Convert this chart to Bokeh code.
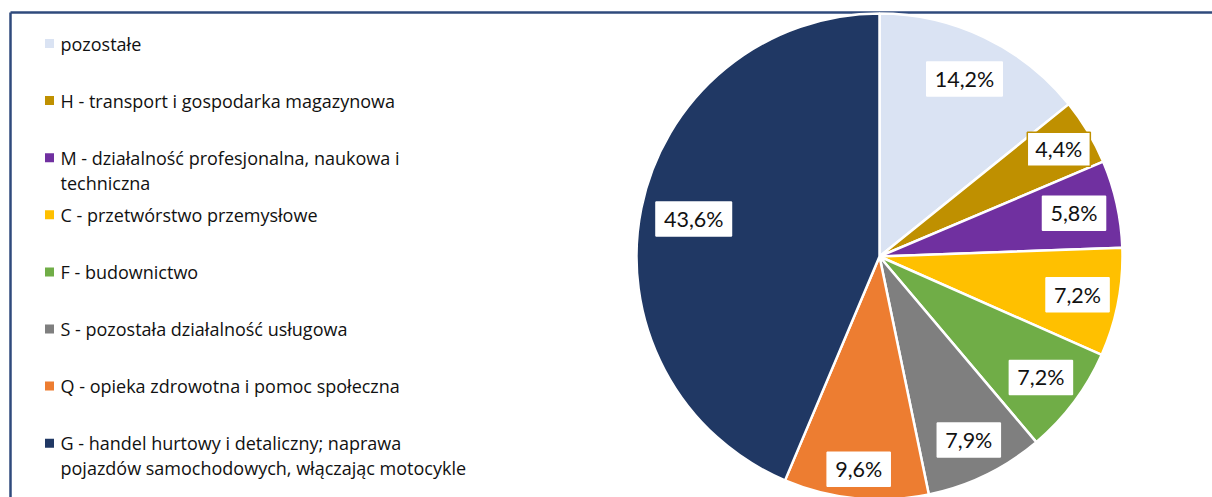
import math
from bokeh.plotting import figure
from bokeh.models import ColumnDataSource, Range1d
from bokeh.core.properties import value
from bokeh.embed import file_html
from bokeh.resources import INLINE

# ---------------- data ----------------
categories = [
    "pozostałe",
    "H - transport i gospodarka magazynowa",
    "M - działalność profesjonalna, naukowa i\ntechniczna",
    "C - przetwórstwo przemysłowe",
    "F - budownictwo",
    "S - pozostała działalność usługowa",
    "Q - opieka zdrowotna i pomoc społeczna",
    "G - handel hurtowy i detaliczny; naprawa\npojazdów samochodowych, włączając motocykle",
]
shares = [14.2, 4.4, 5.8, 7.2, 7.2, 7.9, 9.6, 43.6]
colors = ["#DAE3F3", "#BF9000", "#7030A0", "#FFC000", "#70AD47", "#7F7F7F", "#ED7D31", "#203864"]
label_borders = ["white", "#BF9000", "white", "white", "white", "white", "white", "white"]
label_radius = [0.81, 0.86, 0.82, 0.83, 0.83, 0.84, 0.88, 0.78]

# ---------------- layout (screen-pixel like coordinates) ----------------
W, H = 1212, 497
WIN_H = 497
def sy(y):  # screen y -> data y
    return WIN_H - y

CX, CY, R = 879, sy(256), 243

p = figure(width=W, height=H, x_range=Range1d(0, W), y_range=Range1d(WIN_H - H, WIN_H),
           x_axis_type=None, y_axis_type=None, min_border=0, toolbar_location=None,
           output_backend="svg", background_fill_color="white", border_fill_color="white")
p.grid.visible = False
p.outline_line_color = None

# frame (top and left border lines)
p.segment(x0=[10, 10], y0=[sy(12), sy(12)], x1=[1400, 10], y1=[sy(12), -200],
          line_color="#2F4A7C", line_width=2.5)

# ---------------- pie ----------------
total = sum(shares)
starts, ends, lx, ly, texts = [], [], [], [], []
c = 0.0
for v, f in zip(shares, label_radius):
    a0 = math.pi / 2 - 2 * math.pi * c / total
    a1 = math.pi / 2 - 2 * math.pi * (c + v) / total
    mid = (a0 + a1) / 2
    starts.append(a0)
    ends.append(a1)
    lx.append(CX + f * R * math.cos(mid))
    ly.append(CY + f * R * math.sin(mid))
    texts.append(f"{v:.1f}%".replace(".", ","))
    c += v

pie_src = ColumnDataSource(dict(start=starts, end=ends, color=colors, lx=lx, ly=ly,
                                text=texts, border=label_borders))
p.wedge(x=CX, y=CY, radius=R, start_angle="start", end_angle="end", direction="clock",
        fill_color="color", line_color="white", line_width=2.5, source=pie_src)

p.text(x="lx", y="ly", text="text", source=pie_src, text_align="center", text_baseline="middle",
       text_font=value("Lato"), text_font_size="21.5px", text_color="#111111",
       background_fill_color="white", border_line_color="border", border_line_width=1.5,
       padding=dict(left=8, right=8, top=4, bottom=4))

# ---------------- legend ----------------
row0, row_step, line_step = 43, 57.1, 25
mx, my, tx, ty, tt = [], [], [], [], []
for i, name in enumerate(categories):
    y0 = row0 + i * row_step
    mx.append(49)
    my.append(sy(y0))
    for k, line in enumerate(name.split("\n")):
        tx.append(60)
        ty.append(sy(y0 + k * line_step))
        tt.append(line)

p.scatter(x=mx, y=my, marker="square", size=9, fill_color=colors, line_color=None)
p.text(x=tx, y=ty, text=tt, text_align="left", text_baseline="middle",
       text_font=value("Open Sans"), text_font_size="18px", text_color="#111111")

open("out.html", "w").write(file_html(p, INLINE))
